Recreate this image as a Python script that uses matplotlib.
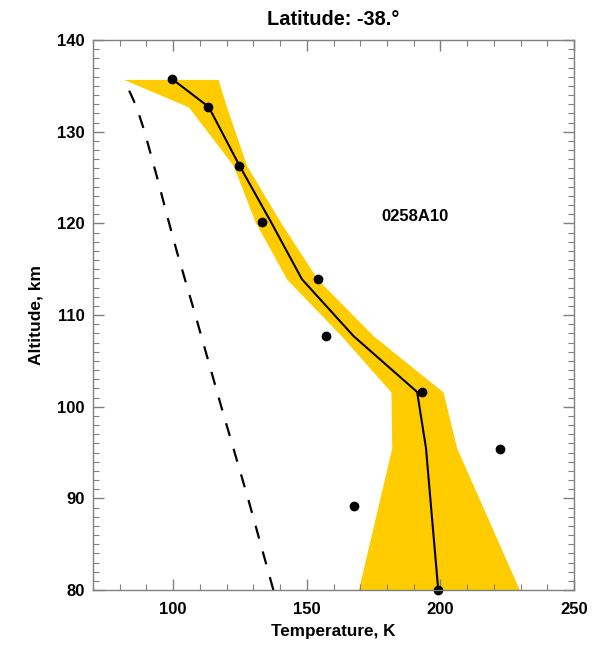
import matplotlib
matplotlib.use("Agg")
import matplotlib.pyplot as plt
from matplotlib.ticker import MultipleLocator

plt.rcParams['font.family'] = ['Liberation Sans', 'DejaVu Sans']
plt.rcParams['font.weight'] = 'bold'

# retrieved profile (solid line)
prof_alt = [80, 95.5, 101.6, 107.7, 113.9, 120.2, 126.3, 132.7, 135.7]
prof_temp = [199.2, 194.6, 191.3, 167.5, 148.2, 136.5, 124.8, 113.3, 99.8]

# uncertainty band
band_alt = [80, 95.5, 101.6, 107.7, 113.9, 120.2, 126.3, 132.7, 135.7]
band_low = [169.3, 181.8, 181.5, 163.0, 142.5, 130.6, 122.5, 105.7, 81.5]
band_high = [229.6, 206.1, 201.0, 175.0, 154.0, 140.0, 127.5, 120.0, 116.8]

# measured points
pt_alt = [80, 89.2, 95.4, 101.6, 107.7, 113.9, 120.2, 126.3, 132.7, 135.7]
pt_temp = [199.2, 167.8, 222.3, 193.0, 157.1, 154.2, 133.3, 124.8, 113.0, 99.6]

# model profile (dashed)
mod_alt = [80, 90, 100, 110, 117, 120, 125, 130, 132.7, 134.5, 135.7]
mod_temp = [137.5, 128.0, 118.0, 108.3, 101.3, 98.5, 94.0, 89.3, 86.3, 83.5, 81.0]

fig = plt.figure(figsize=(6.01, 6.45), dpi=100)
ax = fig.add_axes((93/601, 1-590/645, 481/601, 550/645))

ax.fill_betweenx(band_alt, band_low, band_high, color='#FFCC00', lw=0)
ax.plot(mod_temp, mod_alt, color='black', lw=1.6, dashes=[6, 6])
ax.plot(prof_temp, prof_alt, color='black', lw=1.5)
ax.plot(pt_temp, pt_alt, 'o', color='black', ms=6, clip_on=False)

ax.set_xlim(70, 250)
ax.set_ylim(80, 140)
ax.xaxis.set_major_locator(MultipleLocator(50))
ax.xaxis.set_minor_locator(MultipleLocator(10))
ax.yaxis.set_major_locator(MultipleLocator(10))
ax.yaxis.set_minor_locator(MultipleLocator(1))
ax.tick_params(which='both', direction='in', top=True, right=True,
               color='#808080', labelsize=12)
ax.tick_params(axis='x', pad=9)
ax.tick_params(axis='y', pad=6)
ax.tick_params(which='major', length=8, width=1)
ax.tick_params(which='minor', length=4, width=0.8)
for s in ax.spines.values():
    s.set_color('#808080')
    s.set_linewidth(1)

ax.set_xlabel('Temperature, K', fontsize=12.3, fontweight='bold', labelpad=5)
ax.set_ylabel('Altitude, km', fontsize=12.5, fontweight='bold', labelpad=10)
ax.set_title('Latitude: -38.°', fontsize=14.4, fontweight='bold', pad=11)
ax.text(190.5, 120.7, '0258A10', fontsize=12, fontweight='bold',
        ha='center', va='center')

fig.savefig('out.png', dpi=100)
